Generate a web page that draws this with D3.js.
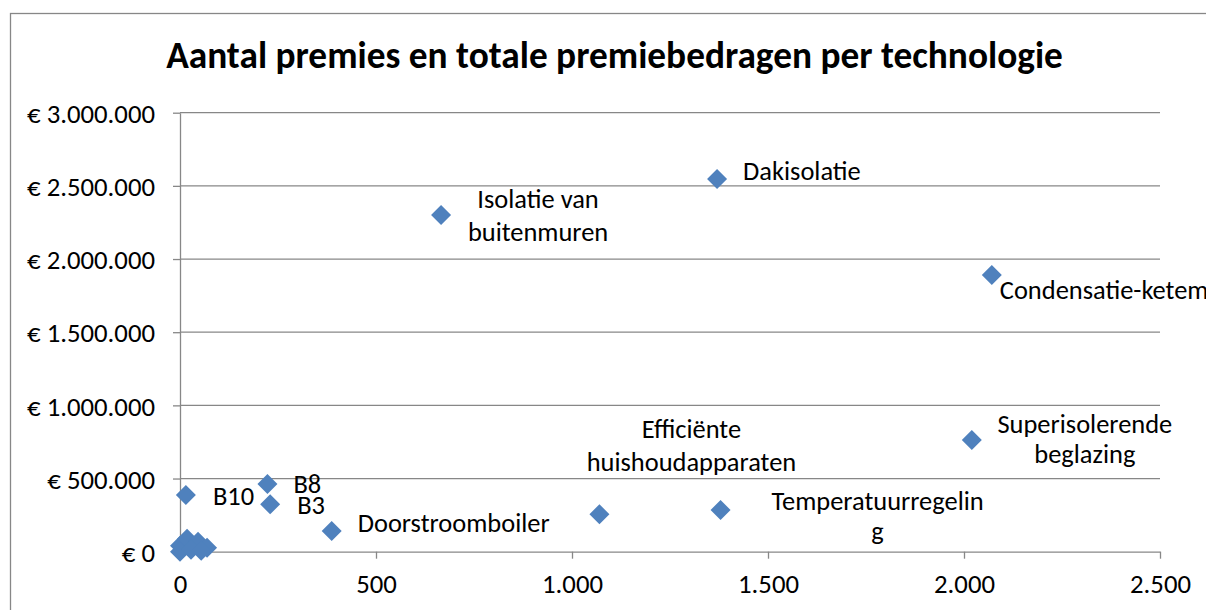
<!DOCTYPE html>
<html>
<head>
<meta charset="utf-8">
<script src="https://cdn.jsdelivr.net/npm/d3@7"></script>
<style>
  body { margin: 0; background: #fff; overflow: hidden; }
  svg { display: block; }
</style>
</head>
<body>
<div id="chart"></div>
<script>
// ---------- data ----------
const title = "Aantal premies en totale premiebedragen per technologie";

// labelled technologies: number of premiums (x) and total amount in euro (y)
const technologies = ["Dakisolatie", "Isolatie van buitenmuren", "Condensatie-ketel",
  "Superisolerende beglazing", "Efficiënte huishoudapparaten", "Temperatuurregeling",
  "Doorstroomboiler", "B3", "B8", "B10"];
const counts  = [1370, 666, 2071, 2020, 1070, 1379, 387, 230, 223, 15];
const amounts = [2547000, 2301000, 1891000, 763000, 256000, 285000, 141000, 324000, 463000, 387000];
// label text as it is wrapped in the chart
const labelLines = [["Dakisolatie"], ["Isolatie van", "buitenmuren"], ["Condensatie-ketem"],
  ["Superisolerende", "beglazing"], ["Efficiënte", "huishoudapparaten"], ["Temperatuurregelin", "g"],
  ["Doorstroomboiler"], ["B3"], ["B8"], ["B10"]];

// small technologies without label, clustered at the origin
const smallCounts  = [0, 0, 18, 46, 69, 28, 54];
const smallAmounts = [41000, 0, 89000, 68000, 27000, 14000, 7000];

const xTicks = [0, 500, 1000, 1500, 2000, 2500];
const yTicks = [0, 500000, 1000000, 1500000, 2000000, 2500000, 3000000];

// ---------- layout ----------
const W = 1206, H = 610;
const plot = { left: 180, right: 1160, top: 112.7, bottom: 551.7 };
const grey = "#878787", blue = "#4F81BD";
const FONT = "Carlito, Lato, sans-serif";

// label placement relative to the marker (anchor, dx, baseline offsets per line)
const labelPos = [
  { a: "start",  dx: 26,  dy: [1] },
  { a: "middle", dx: 97,  dy: [-7, 26] },
  { a: "start",  dx: 8,   dy: [24] },
  { a: "middle", dx: 113, dy: [-7, 23] },
  { a: "middle", dx: 92,  dy: [-76, -43] },
  { a: "middle", dx: 157, dy: [0, 30] },
  { a: "start",  dx: 26,  dy: [1] },
  { a: "start",  dx: 27,  dy: [10] },
  { a: "start",  dx: 26,  dy: [9] },
  { a: "start",  dx: 27,  dy: [10] }
];

const nl = d3.formatLocale({ decimal: ",", thousands: ".", grouping: [3], currency: ["€ ", ""] });
const fmtEuro = nl.format("$,.0f");
const fmtNum = nl.format(",.0f");

const svg = d3.select("#chart").append("svg").attr("width", W).attr("height", H);

// fit a font size so a reference string has the width seen in the chart
function fitSize(str, target, weight) {
  const t = svg.append("text").style("font-family", FONT).style("font-weight", weight || 400)
    .style("font-size", "100px").text(str);
  const w = t.node().getComputedTextLength();
  t.remove();
  return 100 * target / w;
}
const labelFS = fitSize("Doorstroomboiler", 192);
const tickFS = fitSize("€ 3.000.000", 128);
const titleFS = fitSize(title, 897, 700);

// chart area border
svg.append("rect").attr("x", 10.5).attr("y", 13.5).attr("width", 1208).attr("height", 620)
  .attr("fill", "#fff").attr("stroke", grey).attr("stroke-width", 1.3);

svg.append("text")
  .attr("x", 614.5).attr("y", 68.3).attr("text-anchor", "middle")
  .style("font-family", FONT).style("font-weight", 700).style("font-size", titleFS + "px")
  .attr("fill", "#000").text(title);

const x = d3.scaleLinear().domain([0, 2500]).range([plot.left, plot.right]);
const y = d3.scaleLinear().domain([0, 3000000]).range([plot.bottom, plot.top]);

// gridlines
svg.append("g").selectAll("line").data(yTicks.filter(d => d > 0)).join("line")
  .attr("x1", plot.left).attr("x2", plot.right)
  .attr("y1", d => y(d)).attr("y2", d => y(d))
  .attr("stroke", grey).attr("stroke-width", 1.3);

// axes
const gx = svg.append("g").attr("transform", `translate(0,${plot.bottom})`)
  .call(d3.axisBottom(x).tickValues(xTicks).tickFormat(fmtNum).tickSize(7).tickSizeOuter(0));
const gy = svg.append("g").attr("transform", `translate(${plot.left},0)`)
  .call(d3.axisLeft(y).tickValues(yTicks).tickFormat(fmtEuro).tickSize(7).tickSizeOuter(0));

[gx, gy].forEach(g => {
  g.selectAll(".domain, line").attr("stroke", grey).attr("stroke-width", 1.3);
  g.selectAll("text").style("font-family", FONT).style("font-size", tickFS + "px").attr("fill", "#000");
});
gx.selectAll("text").attr("y", 41.5).attr("dy", null);
gy.selectAll("text").attr("x", -25).attr("dy", "0.36em");

// markers
const diamond = "M0,-10L10,0L0,10L-10,0Z";
const small = smallCounts.map((c, i) => ({ c, a: smallAmounts[i] }));
const main = counts.map((c, i) => ({ c, a: amounts[i], i }));

svg.append("g").selectAll("path").data(small.concat(main)).join("path")
  .attr("d", diamond)
  .attr("transform", d => `translate(${x(d.c)},${y(d.a)})`)
  .attr("fill", blue);

// data labels
const lab = svg.append("g").style("font-family", FONT).style("font-size", labelFS + "px").attr("fill", "#000");
main.forEach(d => {
  const p = labelPos[d.i];
  labelLines[d.i].forEach((line, k) => {
    lab.append("text")
      .attr("x", x(d.c) + p.dx).attr("y", y(d.a) + p.dy[k])
      .attr("text-anchor", p.a)
      .text(line);
  });
});
</script>
</body>
</html>
